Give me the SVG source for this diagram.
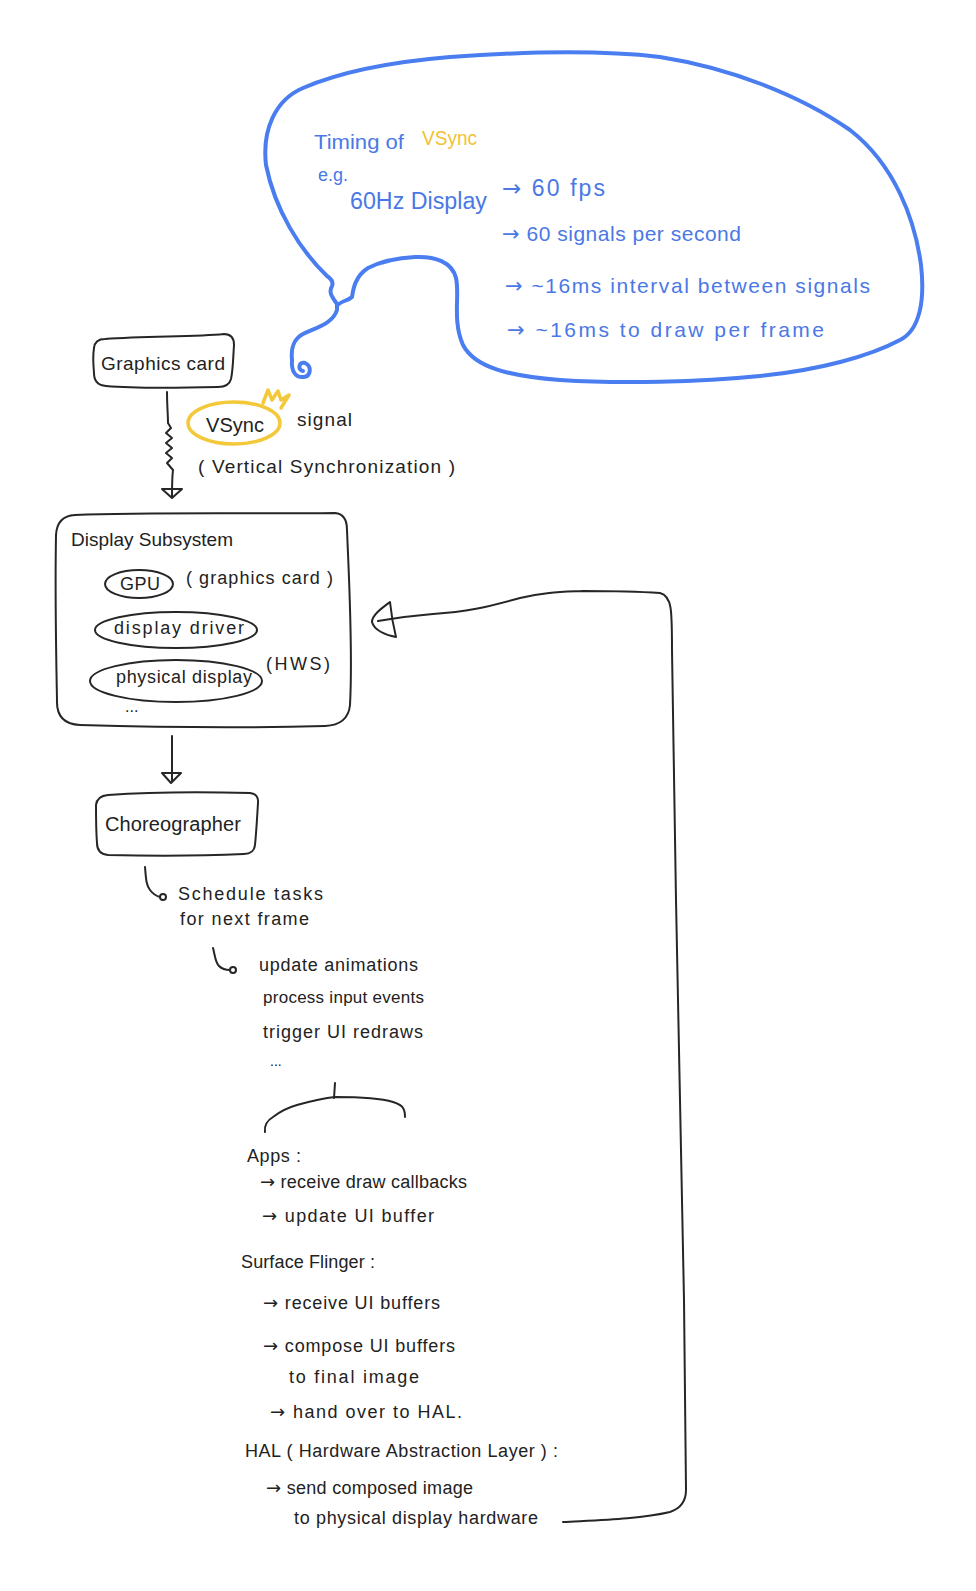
<svg xmlns="http://www.w3.org/2000/svg" width="976" height="1591" viewBox="0 0 976 1591">
<style>
.ink{fill:none;stroke:#262626;stroke-width:2;stroke-linecap:round;stroke-linejoin:round}
.blue{fill:none;stroke:#4A7DF0;stroke-width:4;stroke-linecap:round;stroke-linejoin:round}
.yel{fill:none;stroke:#F3C83A;stroke-width:3.5;stroke-linecap:round;stroke-linejoin:round}
text{font-family:"Liberation Sans","DejaVu Sans",sans-serif;fill:#222}
.ar{font-family:"DejaVu Sans",sans-serif}
.tb{fill:#4A78E6}
.ty{fill:#F1C232}
</style>
<rect width="976" height="1591" fill="#fff"/>

<g id="vsync-timing">
<path class="blue" d="M 292,360 C 291,350 292,340 303,334 C 318,327 333,323 337,310 L 337,304 C 333,298 328,293 332,286 C 334,281 330,278 327,276 C 300,250 275,210 266,165 C 262,130 275,100 303,88 C 340,72 390,62 450,57 C 520,52 600,50 660,57 C 730,68 800,95 850,130 C 895,165 915,220 921,265 C 925,300 920,330 900,340 C 870,356 820,370 760,376 C 700,382 620,384 560,380 C 510,376 475,368 463,345 C 452,320 460,295 456,278 C 452,262 435,256 415,257 C 395,258 380,262 368,268 C 355,276 353,290 352,297 C 348,301 340,301 337,306"/>
<path class="blue" d="M 292,360 C 291,372 296,378 304,377 C 311,376 312,366 305,363 C 299,361 297,370 303,371"/>
<text class="tb" x="314" y="149" font-size="21" textLength="90" lengthAdjust="spacingAndGlyphs">Timing of</text>
<text class="ty" x="422" y="145" font-size="21" textLength="55" lengthAdjust="spacingAndGlyphs">VSync</text>
<text class="tb" x="318" y="181" font-size="18" textLength="30" lengthAdjust="spacingAndGlyphs">e.g.</text>
<text class="tb" x="350" y="209" font-size="23" textLength="137" lengthAdjust="spacingAndGlyphs">60Hz Display</text>
<text class="tb" x="502" y="196" font-size="23" textLength="103" lengthAdjust="spacing"><tspan class="ar">→</tspan>  60 fps</text>
<text class="tb" x="502" y="241" font-size="21" textLength="239" lengthAdjust="spacing"><tspan class="ar">→</tspan>  60 signals per second</text>
<text class="tb" x="505" y="293" font-size="21" textLength="365" lengthAdjust="spacing"><tspan class="ar">→</tspan>  ~16ms interval between signals</text>
<text class="tb" x="507" y="337" font-size="21" textLength="317" lengthAdjust="spacing"><tspan class="ar">→</tspan>  ~16ms to draw per frame</text>
</g>

<g id="graphics-card">
<path class="ink" d="M 105,339 C 150,336 195,337 224,334 Q 234,334 234,345 C 233,360 233,370 231,379 Q 229,387 218,387 C 180,388 140,389 106,386 Q 94,385 94,373 C 93,362 93,354 94,348 Q 95,339 105,339 Z"/>
<text x="101" y="370" font-size="19" textLength="124" lengthAdjust="spacing">Graphics card</text>
</g>

<g id="vsync-signal">
<ellipse class="yel" cx="234" cy="423" rx="46" ry="21"/>
<path class="yel" d="M 263,403 L 268,390 L 272,400 L 278,391 L 281,400 L 289,395 L 281,408"/>
<text x="206" y="432" font-size="20" textLength="58" lengthAdjust="spacing">VSync</text>
<text x="297" y="426" font-size="19" textLength="55" lengthAdjust="spacing">signal</text>
<text x="198" y="473" font-size="19" textLength="257" lengthAdjust="spacing">( Vertical Synchronization )</text>
</g>

<g id="display-subsystem">
<path class="ink" d="M 75,515 C 150,512 250,514 335,513 Q 347,514 347,530 C 349,580 353,650 350,705 Q 348,725 325,726 C 250,728 150,727 80,725 Q 56,724 57,700 C 56,650 55,590 56,535 Q 57,516 75,515 Z"/>
<text x="71" y="546" font-size="19" textLength="162" lengthAdjust="spacing">Display Subsystem</text>
<ellipse class="ink" cx="139" cy="584" rx="34" ry="14"/>
<text x="120" y="590" font-size="18" textLength="40" lengthAdjust="spacing">GPU</text>
<text x="186" y="584" font-size="18" textLength="147" lengthAdjust="spacing">( graphics card )</text>
<ellipse class="ink" cx="176" cy="630" rx="81" ry="18"/>
<text x="114" y="634" font-size="18" textLength="130" lengthAdjust="spacing">display driver</text>
<ellipse class="ink" cx="176" cy="681" rx="86" ry="21"/>
<text x="116" y="683" font-size="18" textLength="136" lengthAdjust="spacing">physical display</text>
<text x="266" y="670" font-size="18" textLength="64" lengthAdjust="spacing">(HWS)</text>
<text x="125" y="712" font-size="16">...</text>
</g>

<g id="choreographer">
<path class="ink" d="M 108,795 C 150,792 210,792 250,793 Q 259,794 258,803 C 257,820 256,835 255,845 Q 254,854 244,854 C 200,856 150,856 108,855 Q 97,854 97,843 C 96,830 96,815 96,805 Q 97,796 108,795 Z"/>
<text x="105" y="831" font-size="20" textLength="136" lengthAdjust="spacing">Choreographer</text>
</g>

<g id="tasks">
<text x="178" y="900" font-size="18" textLength="145" lengthAdjust="spacing">Schedule  tasks</text>
<text x="180" y="925" font-size="18" textLength="129" lengthAdjust="spacing">for next frame</text>
<text x="259" y="971" font-size="18" textLength="159" lengthAdjust="spacing">update  animations</text>
<text x="263" y="1003" font-size="17" textLength="161" lengthAdjust="spacing">process  input events</text>
<text x="263" y="1038" font-size="18" textLength="160" lengthAdjust="spacing">trigger  UI  redraws</text>
<text x="270" y="1066" font-size="14">...</text>
</g>

<g id="apps">
<text x="247" y="1162" font-size="18" textLength="54" lengthAdjust="spacing">Apps  :</text>
<text x="260" y="1188" font-size="18" textLength="207" lengthAdjust="spacing"><tspan class="ar">→</tspan> receive draw callbacks</text>
<text x="262" y="1222" font-size="18" textLength="172" lengthAdjust="spacing"><tspan class="ar">→</tspan>  update  UI  buffer</text>
</g>

<g id="surface-flinger">
<text x="241" y="1268" font-size="18" textLength="134" lengthAdjust="spacing">Surface Flinger  :</text>
<text x="263" y="1309" font-size="18" textLength="177" lengthAdjust="spacing"><tspan class="ar">→</tspan>  receive  UI buffers</text>
<text x="263" y="1352" font-size="18" textLength="192" lengthAdjust="spacing"><tspan class="ar">→</tspan>  compose  UI buffers</text>
<text x="289" y="1383" font-size="18" textLength="130" lengthAdjust="spacing">to final image</text>
<text x="270" y="1418" font-size="18" textLength="192" lengthAdjust="spacing"><tspan class="ar">→</tspan>  hand over to HAL.</text>
</g>

<g id="hal">
<text x="245" y="1457" font-size="18" textLength="313" lengthAdjust="spacing">HAL  ( Hardware Abstraction Layer ) :</text>
<text x="266" y="1494" font-size="18" textLength="207" lengthAdjust="spacing"><tspan class="ar">→</tspan>  send composed image</text>
<text x="294" y="1524" font-size="18" textLength="244" lengthAdjust="spacing">to  physical  display  hardware</text>
</g>

<g id="connectors">
<path class="ink" d="M 167,392 C 167,405 168,415 168,423 L 171,428 L 166,433 L 172,438 L 166,443 L 172,448 L 166,453 L 172,458 L 167,463 L 173,470 C 172,478 172,485 172,497"/>
<path class="ink" d="M 162,489 L 182,489 L 172,498 Z"/>
<path class="ink" d="M 172,736 L 172,781"/>
<path class="ink" d="M 162,773 L 181,773 L 171,783 Z"/>
<path class="ink" d="M 145,867 C 146,878 146,885 150,890 C 153,894 156,896 160,897"/>
<circle class="ink" cx="163" cy="897" r="3"/>
<path class="ink" d="M 213,948 C 215,955 215,962 219,966 C 222,969 226,970 230,970"/>
<circle class="ink" cx="233" cy="970" r="3"/>
<path class="ink" d="M 335,1083 L 334,1098"/>
<path class="ink" d="M 265,1132 C 264,1125 268,1120 273,1117 C 282,1110 290,1107 297,1105 C 315,1100 325,1098 335,1097 C 360,1097 380,1098 393,1102 C 399,1104 402,1106 403,1108 C 405,1111 405,1114 405,1117"/>
<path class="ink" d="M 563,1522 C 600,1520 640,1519 670,1512 C 682,1508 686,1500 686,1490 L 684,1300 L 676,900 L 672,650 C 672,610 672,596 660,593 C 630,591 600,591 583,591 C 560,592 545,592 520,598 C 490,606 470,612 433,614 C 410,616 395,618 378,621"/>
<path class="ink" d="M 390,602 C 382,608 372,615 372,622 C 374,630 385,635 396,637 C 393,625 391,612 390,602 Z"/>
</g>
</svg>
